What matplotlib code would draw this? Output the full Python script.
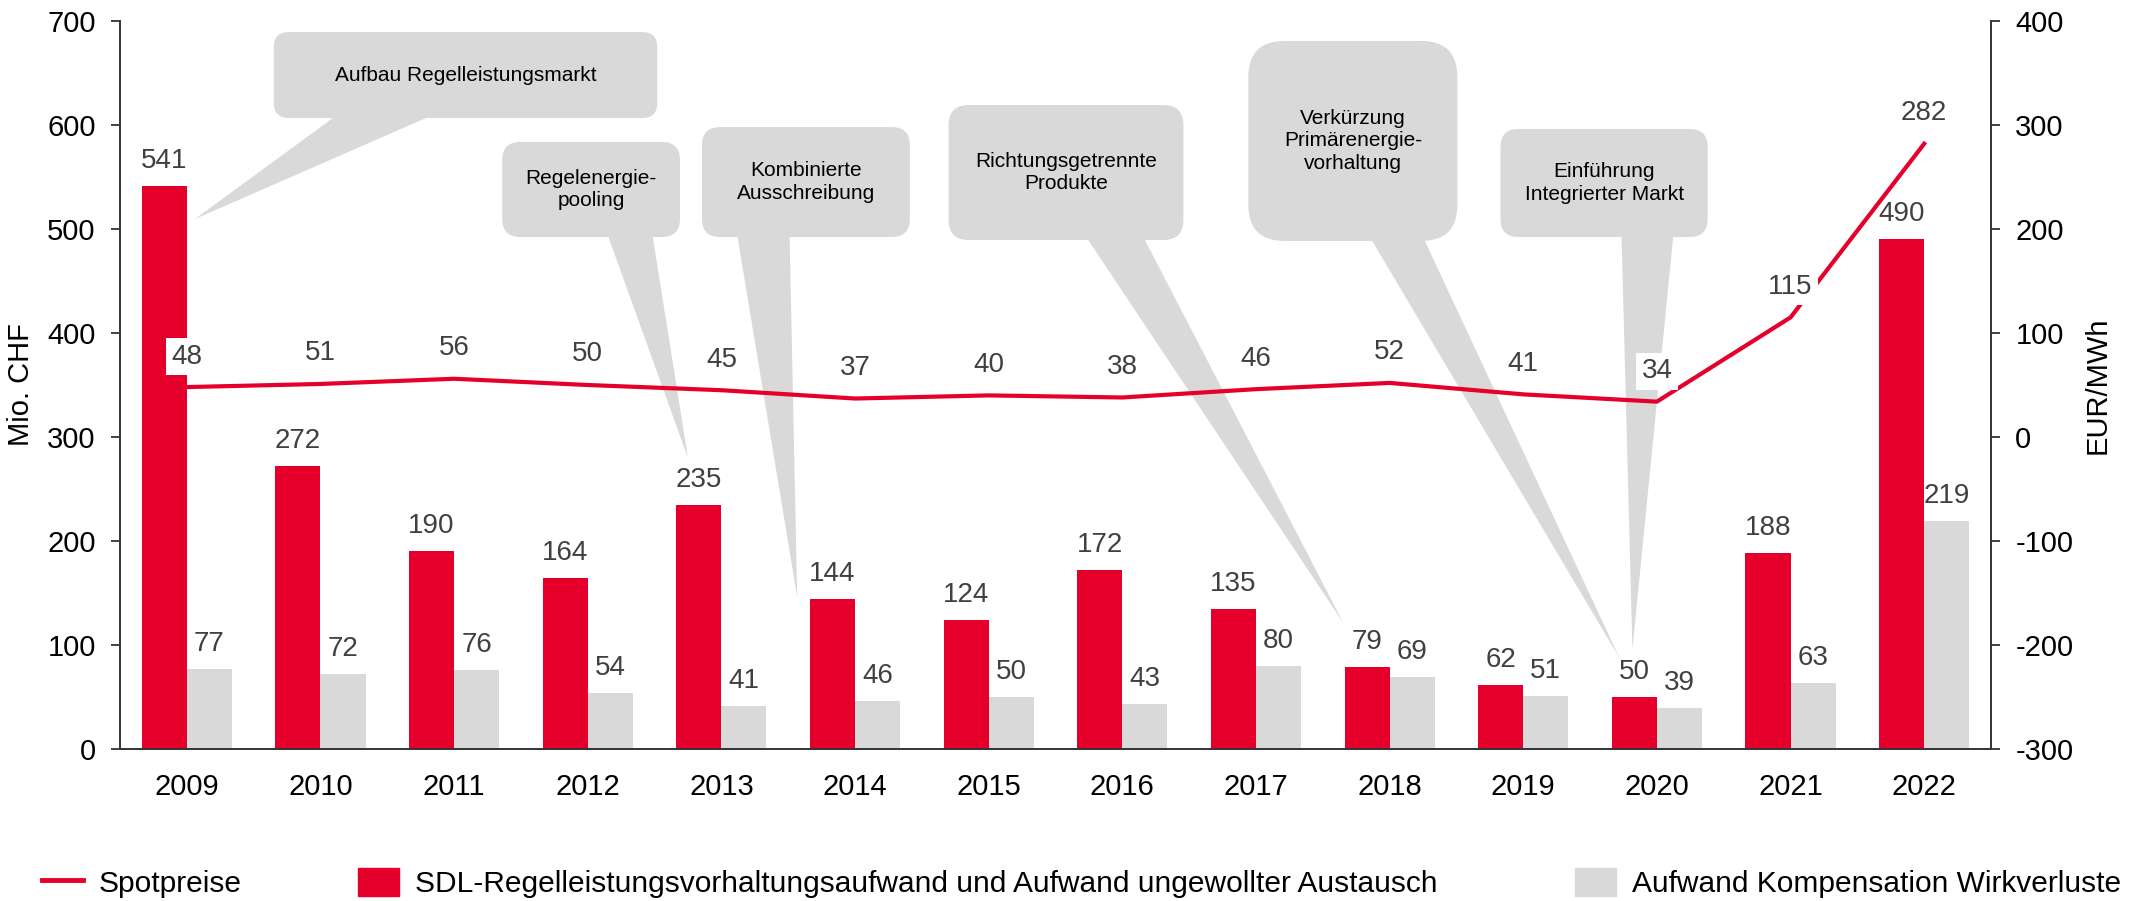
import numpy as np
import matplotlib.pyplot as plt
from matplotlib.patches import FancyBboxPatch, Polygon, Patch
from matplotlib.lines import Line2D

plt.rcParams['font.family'] = ['Liberation Sans', 'DejaVu Sans']
plt.rcParams['axes.unicode_minus'] = False

# data
years = ['2009', '2010', '2011', '2012', '2013', '2014', '2015',
         '2016', '2017', '2018', '2019', '2020', '2021', '2022']
sdl_cost = [541, 272, 190, 164, 235, 144, 124, 172, 135, 79, 62, 50, 188, 490]
loss_cost = [77, 72, 76, 54, 41, 46, 50, 43, 80, 69, 51, 39, 63, 219]
spot_price = [48, 51, 56, 50, 45, 37, 40, 38, 46, 52, 41, 34, 115, 282]
callout_texts = [
    'Aufbau Regelleistungsmarkt',
    'Regelenergie-\npooling',
    'Kombinierte\nAusschreibung',
    'Richtungsgetrennte\nProdukte',
    'Verkürzung\nPrimärenergie-\nvorhaltung',
    'Einführung\nIntegrierter Markt',
]
legend_labels = ['Spotpreise',
                 'SDL-Regelleistungsvorhaltungsaufwand und Aufwand ungewollter Austausch',
                 'Aufwand Kompensation Wirkverluste']

RED = '#E4002B'
GREY = '#D9D9D9'
TXT = '#404040'
AXC = '#333333'

W, H = 2139, 901
fig = plt.figure(figsize=(W / 100, H / 100), dpi=100)
ax = fig.add_axes([120 / W, 1 - 749 / H, 1871 / W, 728 / H])
ax2 = ax.twinx()

x = np.arange(len(years))
bw = 0.337
bars_r = ax.bar(x - bw / 2, sdl_cost, bw, color=RED, zorder=2)
bars_g = ax.bar(x + bw / 2, loss_cost, bw, color=GREY, zorder=2)
ax.set_xlim(-0.5, len(years) - 0.5)
ax.set_ylim(0, 700)
ax.set_yticks(range(0, 701, 100))
ax.set_xticks(x)
ax.set_xticklabels(years)
ax2.set_ylim(-300, 400)
ax2.set_yticks(range(-300, 401, 100))

for b, v in zip(list(bars_r) + list(bars_g), sdl_cost + loss_cost):
    ax.annotate(str(v), (b.get_x() + b.get_width() / 2, b.get_height()),
                xytext=(0, 18), textcoords='offset points', ha='center',
                va='center', fontsize=20, color=TXT, zorder=6)

# callouts (box x0, x1, y0, y1 / tail base x pair / tip / corner radius px)
callout_geom = [
    ((0.651, 3.52, 606.7, 689.4), (1.125, 1.843), (0.061, 509.6), 15),
    ((2.36, 3.69, 492.3, 583.7), (3.146, 3.483), (3.75, 279.8), 18),
    ((3.855, 5.41, 492.3, 598.0), (4.117, 4.51), (4.567, 146.2), 18),
    ((5.70, 7.457, 489.4, 619.2), (6.73, 7.157), (8.654, 121.2), 20),
    ((7.943, 9.507, 488.5, 680.8), (8.856, 9.253), (10.72, 87.5), 36),
    ((9.83, 11.38, 492.3, 596.2), (10.735, 11.124), (10.817, 96.2), 18),
]
p0, p1 = ax.transData.transform([(0, 0), (1, 1)])
sx, sy = p1 - p0
for txt, (box, base, tip, r) in zip(callout_texts, callout_geom):
    x0, x1, y0, y1 = box
    ax.add_patch(FancyBboxPatch((x0, y0), x1 - x0, y1 - y0,
                                boxstyle=f'round,pad=0,rounding_size={r / sx}',
                                mutation_aspect=sx / sy, fc=GREY, ec='none', zorder=3))
    ax.add_patch(Polygon([(base[0], y0 + 3), (base[1], y0 + 3), tip],
                         closed=True, fc=GREY, ec='none', zorder=3))
    ax.text((x0 + x1) / 2, (y0 + y1) / 2, txt, ha='center', va='center',
            fontsize=15, color='black', linespacing=1.25, zorder=4)

ax2.plot(x, spot_price, color=RED, lw=3, zorder=3)
for xi, v in zip(x, spot_price):
    ax2.annotate(str(v), (xi, v), xytext=(0, 22), textcoords='offset points',
                 ha='center', va='center', fontsize=20, color=TXT, zorder=5,
                 bbox=dict(boxstyle='square,pad=0.2', fc='white', ec='none'))

for s in ['top', 'right']:
    ax.spines[s].set_visible(False)
for s in ['top', 'left', 'bottom']:
    ax2.spines[s].set_visible(False)
ax.spines['left'].set_color(AXC)
ax.spines['bottom'].set_color(AXC)
ax2.spines['right'].set_color(AXC)
for sp in [ax.spines['left'], ax.spines['bottom'], ax2.spines['right']]:
    sp.set_linewidth(1.4)

ax.tick_params(axis='y', length=6.5, width=1.3, color=AXC, pad=11, labelsize=21)
ax.tick_params(axis='x', length=0, pad=17, labelsize=21)
ax2.tick_params(axis='y', length=6.5, width=1.3, color=AXC, pad=11, labelsize=21)

ax.set_ylabel('Mio. CHF', fontsize=21)
ax2.set_ylabel('EUR/MWh', fontsize=21)
ax.yaxis.set_label_coords(-0.0454, 0.5)
ax2.yaxis.set_label_coords(1.0497, 0.5)

# legend: three separate entries placed along the bottom
handles = [Line2D([0], [0], color=RED, lw=3.5),
           Patch(color=RED), Patch(color=GREY)]
legend_x = [42 / W, 358 / W, 1575 / W]
for h, lab, lx in zip(handles, legend_labels, legend_x):
    fig.legend([h], [lab], loc='center left', bbox_to_anchor=(lx, 18 / H),
               frameon=False, fontsize=21.5, handlelength=1.37, handleheight=1.07,
               handletextpad=0.53, borderpad=0, borderaxespad=0)

fig.savefig('out.png', dpi=100)
